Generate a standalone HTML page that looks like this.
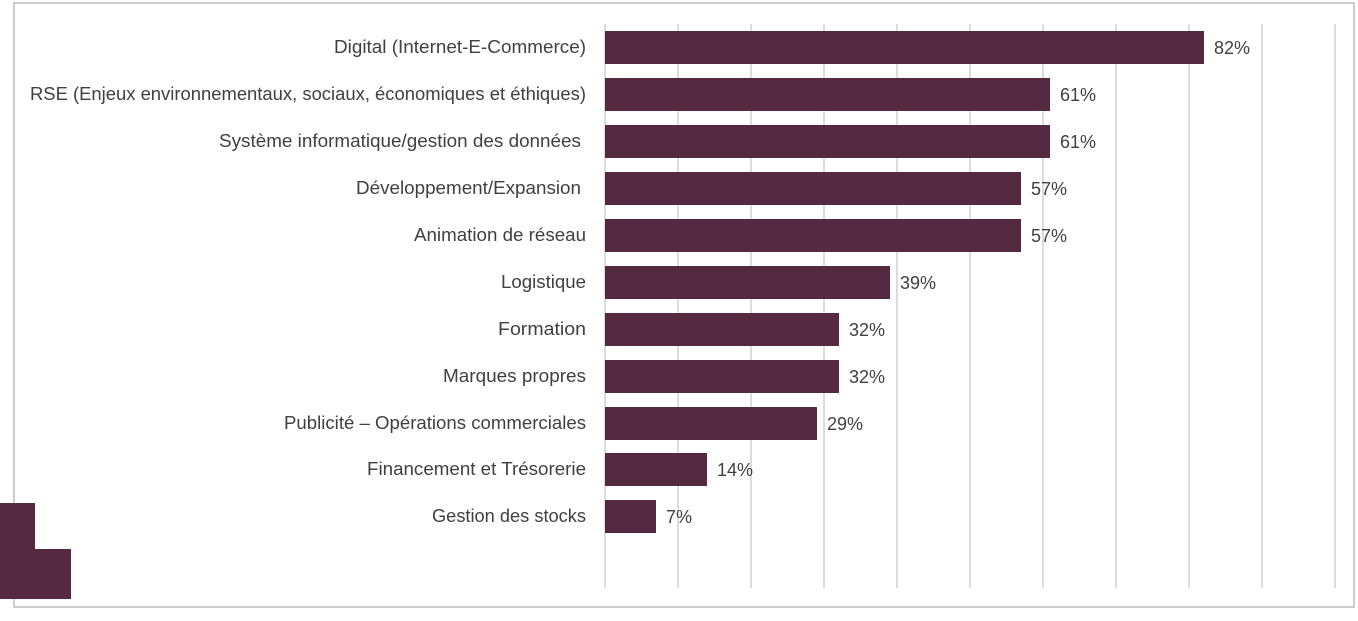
<!DOCTYPE html>
<html><head><meta charset="utf-8"><style>
html,body{margin:0;padding:0;background:#fff;}
svg text{font-family:"Liberation Sans",sans-serif;fill:#404040;}
</style></head><body>
<svg width="1358" height="616" xmlns="http://www.w3.org/2000/svg">
<rect x="14" y="3" width="1340" height="604" fill="#fff" stroke="#bdbdbd" stroke-width="1.5"/>
<g stroke="#d0d0d0" stroke-width="1.5">
<line x1="605" y1="24" x2="605" y2="588"/><line x1="678" y1="24" x2="678" y2="588"/>
<line x1="751" y1="24" x2="751" y2="588"/><line x1="824" y1="24" x2="824" y2="588"/>
<line x1="897" y1="24" x2="897" y2="588"/><line x1="970" y1="24" x2="970" y2="588"/>
<line x1="1043" y1="24" x2="1043" y2="588"/><line x1="1116" y1="24" x2="1116" y2="588"/>
<line x1="1189" y1="24" x2="1189" y2="588"/><line x1="1262" y1="24" x2="1262" y2="588"/>
<line x1="1335" y1="24" x2="1335" y2="588"/>
</g>
<g fill="#552a41">
<rect x="605" y="31" width="599" height="33"/>
<rect x="605" y="78" width="445" height="33"/>
<rect x="605" y="125" width="445" height="33"/>
<rect x="605" y="172" width="416" height="33"/>
<rect x="605" y="219" width="416" height="33"/>
<rect x="605" y="266" width="285" height="33"/>
<rect x="605" y="313" width="234" height="33"/>
<rect x="605" y="360" width="234" height="33"/>
<rect x="605" y="407" width="212" height="33"/>
<rect x="605" y="453" width="102" height="33"/>
<rect x="605" y="500" width="51" height="33"/>
<rect x="0" y="503" width="35" height="96"/>
<rect x="0" y="549" width="71" height="50"/>
</g>
<g font-size="18" text-anchor="end">
<text x="586" y="53" textLength="252" lengthAdjust="spacingAndGlyphs">Digital (Internet-E-Commerce)</text>
<text x="586" y="100" textLength="556" lengthAdjust="spacingAndGlyphs">RSE (Enjeux environnementaux, sociaux, économiques et éthiques)</text>
<text x="581" y="147" textLength="362" lengthAdjust="spacingAndGlyphs">Système informatique/gestion des données</text>
<text x="581" y="194" textLength="225" lengthAdjust="spacingAndGlyphs">Développement/Expansion</text>
<text x="586" y="241" textLength="172" lengthAdjust="spacingAndGlyphs">Animation de réseau</text>
<text x="586" y="288" textLength="85" lengthAdjust="spacingAndGlyphs">Logistique</text>
<text x="586" y="335" textLength="88" lengthAdjust="spacingAndGlyphs">Formation</text>
<text x="586" y="382" textLength="143" lengthAdjust="spacingAndGlyphs">Marques propres</text>
<text x="586" y="429" textLength="302" lengthAdjust="spacingAndGlyphs">Publicité – Opérations commerciales</text>
<text x="586" y="475" textLength="219" lengthAdjust="spacingAndGlyphs">Financement et Trésorerie</text>
<text x="586" y="522" textLength="154" lengthAdjust="spacingAndGlyphs">Gestion des stocks</text>
</g>
<g font-size="18">
<text x="1214" y="54">82%</text>
<text x="1060" y="101">61%</text>
<text x="1060" y="148">61%</text>
<text x="1031" y="195">57%</text>
<text x="1031" y="242">57%</text>
<text x="900" y="289">39%</text>
<text x="849" y="336">32%</text>
<text x="849" y="383">32%</text>
<text x="827" y="430">29%</text>
<text x="717" y="476">14%</text>
<text x="666" y="523">7%</text>
</g>
</svg>
</body></html>
